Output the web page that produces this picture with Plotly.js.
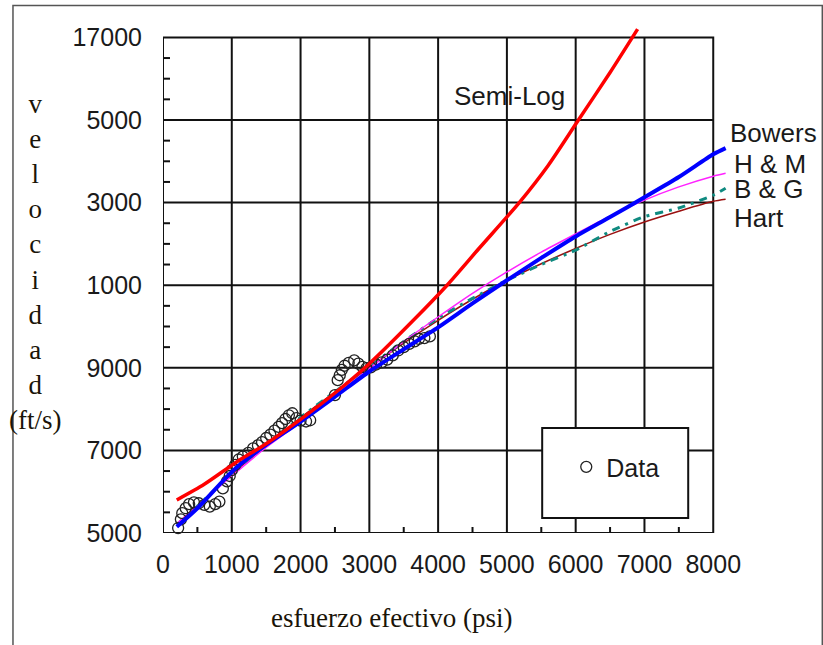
<!DOCTYPE html>
<html>
<head>
<meta charset="utf-8">
<script src="https://cdn.plot.ly/plotly-3.0.1.min.js"></script>
<style>
html,body{margin:0;padding:0;background:#fff;}
#chart{width:823px;height:645px;}
</style>
</head>
<body>
<div id="chart"></div>
<script>
// ---- Data ----
const dataStress = [220, 260, 280, 330, 380, 450, 520, 600, 680, 760, 820, 870, 930, 970, 1000, 1050, 1100, 1160, 1240, 1310, 1380, 1440, 1500, 1560, 1620, 1680, 1730, 1780, 1830, 1880, 1940, 2000, 2080, 2140, 2500, 2540, 2570, 2600, 2640, 2700, 2780, 2840, 2900, 2960, 3020, 3100, 3180, 3260, 3340, 3420, 3500, 3580, 3660, 3720, 3800, 3880];
const dataVel    = [5120, 5330, 5480, 5600, 5700, 5740, 5720, 5680, 5640, 5700, 5760, 6080, 6250, 6380, 6520, 6650, 6780, 6850, 6940, 7050, 7120, 7200, 7300, 7380, 7480, 7570, 7660, 7760, 7850, 7900, 7780, 7720, 7700, 7730, 8340, 8700, 8820, 8950, 9050, 9120, 9180, 9100, 9020, 8990, 9010, 9080, 9130, 9200, 9300, 9420, 9500, 9580, 9640, 9700, 9720, 9760];

const semiLogStress = [200, 600, 1070, 1500, 2000, 2500, 3000, 3640, 4130, 4600, 5180, 5600, 6040, 6500, 6900];
const semiLogVel    = [5800, 6180, 6720, 7160, 7750, 8390, 9100, 10150, 11000, 11900, 13000, 13900, 15000, 16150, 17200];

const bowersStress = [200, 500, 1000, 1385, 2000, 2500, 3000, 3500, 4000, 4500, 5000, 5500, 6000, 6500, 7000, 7500, 8000, 8180];
const bowersVel    = [5150, 5600, 6480, 7000, 7700, 8300, 8910, 9450, 9980, 10560, 11120, 11660, 12180, 12650, 13130, 13620, 14170, 14320];

const curveStress = [200, 500, 1000, 1500, 2000, 2500, 3000, 3500, 4000, 4500, 5000, 5500, 6000, 6500, 7000, 7500, 8000, 8180];
const hmVel   = [5230, 5650, 6380, 7070, 7680, 8330, 8980, 9640, 10230, 10800, 11320, 11800, 12240, 12670, 13060, 13380, 13640, 13710];
const bgVel   = [5200, 5650, 6420, 7120, 7800, 8420, 9030, 9640, 10200, 10680, 11120, 11500, 11850, 12300, 12660, 12870, 13180, 13346];
const hartVel = [5220, 5660, 6420, 7120, 7790, 8410, 9010, 9600, 10150, 10660, 11120, 11520, 11890, 12230, 12530, 12790, 13030, 13080];

const xTickVals = [0, 1000, 2000, 3000, 4000, 5000, 6000, 7000, 8000];
const xTickText = ['0', '1000', '2000', '3000', '4000', '5000', '6000', '7000', '8000'];
const yTickVals = [5000, 7000, 9000, 11000, 13000, 15000, 17000];
const yTickText = ['5000', '7000', '9000', '1000', '3000', '5000', '17000'];
const xMinor = [500, 1500, 2500, 3500, 4500, 5500, 6500, 7500];
const yMinor = [5500, 6000, 6500, 7500, 8000, 8500, 9500, 10000, 10500, 11500, 12000, 12500, 13500, 14000, 14500, 15500, 16000, 16500];

const xLabel = 'esfuerzo efectivo (psi)';
const yLabelLetters = ['v', 'e', 'l', 'o', 'c', 'i', 'd', 'a', 'd', '(ft/s)'];
const seriesNames = ['Semi-Log', 'Bowers', 'H & M', 'B & G', 'Hart', 'Data'];

// ---- Traces ----
const sm = 0.7;
const traces = [
  {x: curveStress, y: hartVel, mode: 'lines', name: seriesNames[4], showlegend: false,
   line: {color: '#9a1010', width: 1.5, shape: 'spline', smoothing: sm}},
  {x: curveStress, y: bgVel, mode: 'lines', name: seriesNames[3], showlegend: false,
   line: {color: '#0f8a80', width: 3, dash: '8px,6px,3px,6px', shape: 'spline', smoothing: sm}},
  {x: curveStress, y: hmVel, mode: 'lines', name: seriesNames[2], showlegend: false,
   line: {color: '#ff22ff', width: 1.5, shape: 'spline', smoothing: sm}},
  {x: dataStress, y: dataVel, mode: 'markers', name: seriesNames[5], showlegend: true,
   cliponaxis: false,
   marker: {symbol: 'circle-open', size: 11, color: '#222', line: {width: 1.3, color: '#222'}}},
  {x: bowersStress, y: bowersVel, mode: 'lines', name: seriesNames[1], showlegend: false,
   line: {color: '#0000ff', width: 4, shape: 'spline', smoothing: sm}},
  {x: semiLogStress, y: semiLogVel, mode: 'lines', name: seriesNames[0], showlegend: false,
   line: {color: '#ff0000', width: 3.5, shape: 'spline', smoothing: sm}}
];

// ---- Frame, grid, minor ticks ----
const black = '#111';
const shapes = [];
xTickVals.slice(1, -1).forEach(v => shapes.push({type: 'line', xref: 'x', yref: 'y', x0: v, x1: v, y0: 5000, y1: 17000, layer: 'below', line: {color: black, width: 2}}));
yTickVals.slice(1, -1).forEach(v => shapes.push({type: 'line', xref: 'x', yref: 'y', x0: 0, x1: 8000, y0: v, y1: v, layer: 'below', line: {color: black, width: 2}}));
shapes.push({type: 'rect', xref: 'x', yref: 'y', x0: 0, x1: 8000, y0: 5000, y1: 17000, layer: 'below', line: {color: black, width: 2}});
xMinor.forEach(v => shapes.push({type: 'line', xref: 'x', yref: 'y', x0: v, x1: v, ysizemode: 'pixel', yanchor: 5000, y0: 0, y1: 6, layer: 'below', line: {color: black, width: 2}}));
yMinor.forEach(v => shapes.push({type: 'line', xref: 'x', yref: 'y', xsizemode: 'pixel', xanchor: 0, x0: 0, x1: 7, y0: v, y1: v, layer: 'below', line: {color: black, width: 2}}));
// legend box
shapes.push({type: 'rect', xref: 'x', yref: 'y', x0: 5513, x1: 7636, y0: 5363, y1: 7540, layer: 'below', fillcolor: '#ffffff', line: {color: black, width: 2}});
// outer picture frame
shapes.push({type: 'rect', xref: 'paper', yref: 'paper', x0: -0.266, x1: 1.169, y0: -0.35, y1: 1.0386, layer: 'below', line: {color: '#555', width: 1.5}});

const txt = '#1a1a1a';
const sansFont = {family: 'Liberation Sans, Arial, sans-serif', size: 25, color: txt};
const labelFont = {family: 'Liberation Sans, Arial, sans-serif', size: 26, color: txt};
const serifFont = {family: 'Liberation Serif, Times New Roman, serif', size: 27, color: '#1a1408'};

const annotations = [
  {x: 5040, y: 15571, xref: 'x', yref: 'y', text: seriesNames[0], showarrow: false, xanchor: 'center', yanchor: 'middle', font: labelFont},
  {x: 1.002, y: 0.7868, xref: 'paper', yref: 'paper', text: seriesNames[1], showarrow: false, xanchor: 'left', yanchor: 'middle', font: labelFont},
  {x: 1.008, y: 0.7258, xref: 'paper', yref: 'paper', text: seriesNames[2], showarrow: false, xanchor: 'left', yanchor: 'middle', font: labelFont},
  {x: 1.008, y: 0.6766, xref: 'paper', yref: 'paper', text: seriesNames[3], showarrow: false, xanchor: 'left', yanchor: 'middle', font: labelFont},
  {x: 1.008, y: 0.6196, xref: 'paper', yref: 'paper', text: seriesNames[4], showarrow: false, xanchor: 'left', yanchor: 'middle', font: labelFont},
  {x: -0.227, y: 0.533, xref: 'paper', yref: 'paper', text: yLabelLetters.join('<br>'), showarrow: false, xanchor: 'center', yanchor: 'middle', align: 'center', font: serifFont},
  {x: 0.4044, y: -0.167, xref: 'paper', yref: 'paper', text: xLabel, showarrow: false, xanchor: 'center', yanchor: 'middle', font: serifFont}
];

const layout = {
  width: 823, height: 645,
  margin: {l: 163, r: 96.25, t: 24.6, b: 112, pad: 0},
  paper_bgcolor: '#ffffff', plot_bgcolor: 'rgba(0,0,0,0)',
  showlegend: true,
  legend: {x: 0.715, y: 0.175, xanchor: 'left', yanchor: 'top', bgcolor: 'rgba(0,0,0,0)', borderwidth: 0, font: sansFont},
  xaxis: {range: [0, 8200], tickmode: 'array', tickvals: xTickVals, ticktext: xTickText,
          showgrid: false, zeroline: false, showline: false, ticks: '', ticklabelstandoff: 14,
          tickfont: sansFont},
  yaxis: {range: [5000, 17300], tickmode: 'array', tickvals: yTickVals, ticktext: yTickText,
          showgrid: false, zeroline: false, showline: false, ticks: '', ticklabelstandoff: 20,
          tickfont: sansFont},
  shapes: shapes,
  annotations: annotations
};

Plotly.newPlot('chart', traces, layout, {displayModeBar: false, staticPlot: true});
</script>
</body>
</html>
